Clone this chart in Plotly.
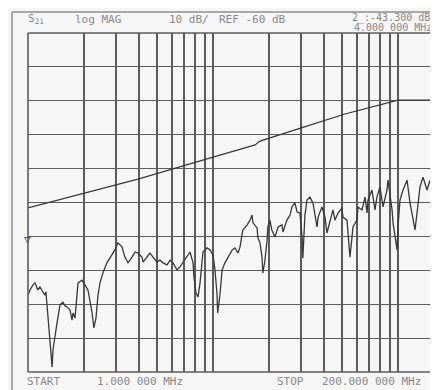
import plotly.graph_objects as go

# ---- data (frequency in MHz, magnitude in dB) ----
upper_freq = [1.0, 1.96, 3.93, 10.0, 16.9, 17.95, 20.3, 30.0, 51.7, 100.0, 162.5]
upper_db = [-51.6, -47.5, -43.1, -36.6, -33.0, -31.9, -31.0, -28.0, -23.9, -19.8, -19.8]

lower_freq = [
    1.00, 1.025, 1.064, 1.09, 1.13, 1.16, 1.205, 1.235, 1.25, 1.28, 1.315, 1.35, 1.365, 1.40,
    1.435, 1.49, 1.545, 1.585, 1.625, 1.687, 1.73, 1.75, 1.795, 1.864, 1.958, 2.03, 2.11, 2.22,
    2.27, 2.33, 2.39, 2.45, 2.54, 2.67, 2.84, 2.95, 3.06, 3.22, 3.34, 3.47, 3.65, 3.79, 3.93,
    4.13, 4.19, 4.40, 4.56, 4.74, 4.98, 5.17, 5.37, 5.64, 5.86, 6.08, 6.39, 6.63, 6.88, 7.23,
    7.51, 7.80, 7.89, 8.09, 8.30, 8.51, 8.72, 8.83, 9.28, 9.64, 10.0, 10.25, 10.5, 10.6, 10.9,
    11.2, 11.6, 12.05, 12.7, 13.15, 13.65, 14.0, 14.5, 15.3, 15.85, 16.25, 16.45, 17.3, 17.5,
    17.95, 18.4, 18.6, 19.1, 19.6, 19.8, 20.3, 20.8, 21.6, 22.5, 23.6, 23.9, 25.1, 26.1, 26.7,
    27.7, 28.5, 29.5, 30.3, 30.6, 31.4, 32.2, 33.4, 34.7, 36.5, 37.0, 38.8, 40.3, 41.3, 42.9,
    44.5, 45.6, 47.4, 49.8, 50.4, 53.0, 53.7, 55.0, 56.4, 57.1, 60.0, 60.8, 63.9, 66.3, 68.0,
    68.8, 72.3, 75.1, 76.9, 79.9, 83.0, 87.2, 88.3, 92.9, 94.0, 98.8, 100.0, 102.5, 106.4,
    111.9, 116.1, 120.5, 123.6, 126.7, 131.5, 136.5, 143.5, 148.9, 154.5, 162.5,
]
lower_db = [
    -77.3, -75.8, -74.3, -73.7, -75.8, -74.9, -76.4, -77.3, -76.4, -83.8, -90.6, -98.5, -93.5, -89.1,
    -85.5, -80.2, -79.4, -80.5, -80.8, -81.7, -84.7, -82.6, -84.1, -73.7, -72.9, -74.3, -75.8, -82.6,
    -87.0, -84.1, -77.3, -73.7, -70.8, -67.8, -65.5, -64.0, -61.9, -63.1, -66.1, -67.8, -66.1, -64.6, -64.9,
    -66.1, -67.6, -66.1, -64.9, -66.1, -67.6, -67.0, -67.8, -68.4, -67.0, -67.8, -69.9, -69.0, -67.8, -66.1,
    -64.6, -67.8, -72.0, -76.7, -77.9, -73.7, -67.8, -64.6, -63.4, -64.0, -65.5, -69.9, -76.7, -82.6, -77.3,
    -69.9, -67.8, -66.1, -64.0, -63.4, -64.9, -63.1, -58.1, -56.6, -55.2, -53.7, -56.0, -57.5, -60.5,
    -61.9, -66.1, -70.8, -67.0, -61.1, -57.2, -55.2, -58.1, -60.2, -57.2, -56.6, -58.7, -55.2, -53.7, -51.3,
    -50.1, -52.8, -53.1, -60.2, -66.4, -53.7, -49.3, -48.4, -50.1, -57.2, -54.3, -51.3, -54.3, -59.0, -55.2,
    -52.2, -55.2, -53.1, -51.6, -54.3, -55.2, -59.0, -66.1, -60.2, -57.2, -55.2, -51.3, -52.2, -48.4, -53.1,
    -49.3, -46.3, -52.2, -48.4, -45.4, -51.3, -46.3, -43.4, -52.2, -56.0, -64.0, -57.2, -49.3, -46.3,
    -43.4, -50.1, -54.3, -58.1, -53.1, -45.4, -42.5, -46.3, -43.4, -47.2, -45.4,
]

grid_freqs = [1, 2, 3, 4, 5, 6, 7, 8, 9, 10, 20, 30, 40, 50, 60, 70, 80, 90, 100]

header_texts = ["S<sub>21</sub>", "log MAG", "10 dB/", "REF -60 dB", "2_:-43.300 dB", "4.000 000 MHz"]
footer_texts = ["START", "1.000 000 MHz", "STOP", "200.000 000 MHz"]

# ---- figure ----
# the page body has an 8px margin, so the figure is drawn 8px in from the window corner
OFF = 8
WIN_W, WIN_H = 438, 390
W, H = WIN_W - OFF, WIN_H - OFF
PL, PT, PB = 28, 33, 372          # plot area edges in window pixels
ML, MR, MT, MB = PL - OFF, 0, PT - OFF, WIN_H - PB
PW, PH = W - ML - MR, H - MT - MB


def px(x):
    return (x - PL) / PW


def py(y):
    return (PB - y) / PH


GRID = "#5c5c5c"
TRACE = "#383838"
TXT = "#8a8a8a"
BG = "#f6f6f6"

fig = go.Figure()
fig.add_trace(go.Scatter(x=upper_freq, y=upper_db, mode="lines",
                         line=dict(color=TRACE, width=1.2), showlegend=False, hoverinfo="skip"))
fig.add_trace(go.Scatter(x=lower_freq, y=lower_db, mode="lines",
                         line=dict(color=TRACE, width=1.3), showlegend=False, hoverinfo="skip"))

fig.update_layout(
    width=W, height=H,
    margin=dict(l=ML, r=MR, t=MT, b=MB, pad=0),
    paper_bgcolor=BG, plot_bgcolor=BG,
    xaxis=dict(type="log", range=[0, 2.2162], tickmode="array", tickvals=grid_freqs,
               showticklabels=False, ticks="", showgrid=True, gridcolor=GRID, gridwidth=1.6,
               zeroline=False, showline=False, fixedrange=True),
    yaxis=dict(range=[-100, 0], dtick=10, tick0=0, showticklabels=False, ticks="",
               showgrid=True, gridcolor=GRID, gridwidth=1.4, zeroline=False, showline=False,
               fixedrange=True),
    font=dict(family="DejaVu Sans Mono", size=11, color=TXT),
)

shapes = []
# plot frame (top, bottom, left)
shapes.append(dict(type="line", xref="paper", yref="paper", x0=0, x1=1, y0=1, y1=1,
                   line=dict(color=GRID, width=1.6)))
shapes.append(dict(type="line", xref="paper", yref="paper", x0=0, x1=1, y0=0, y1=0,
                   line=dict(color=GRID, width=1.6)))
shapes.append(dict(type="line", xref="paper", yref="paper", x0=0, x1=0, y0=0, y1=1,
                   line=dict(color=GRID, width=1.6)))
# outer scan border
shapes.append(dict(type="line", xref="paper", yref="paper", x0=px(12), x1=px(12), y0=py(390), y1=py(12),
                   line=dict(color="#a8a8a8", width=2)))
shapes.append(dict(type="line", xref="paper", yref="paper", x0=px(12), x1=px(438), y0=py(12), y1=py(12),
                   line=dict(color="#a8a8a8", width=2)))
fig.update_layout(shapes=shapes)

ann = []
hx = [26, 73, 167, 217, 350, 352]
hy = [19, 19, 19, 19, 18, 28]
hs = [11, 11, 11, 11, 10, 10]
for t, x, y, s in zip(header_texts, hx, hy, hs):
    ann.append(dict(text=t, xref="paper", yref="paper", x=px(x), y=py(y), xanchor="left",
                    yanchor="middle", showarrow=False, font=dict(size=s)))
fx = [25, 95, 275, 320]
for t, x in zip(footer_texts, fx):
    ann.append(dict(text=t, xref="paper", yref="paper", x=px(x), y=py(381), xanchor="left",
                    yanchor="middle", showarrow=False, font=dict(size=11)))
# reference position marker
ann.append(dict(text="▽", xref="paper", yref="y", x=px(27), y=-61, xanchor="center",
                yanchor="middle", showarrow=False, font=dict(size=11, color="#444")))
fig.update_layout(annotations=ann)

fig.write_html("out.html")
